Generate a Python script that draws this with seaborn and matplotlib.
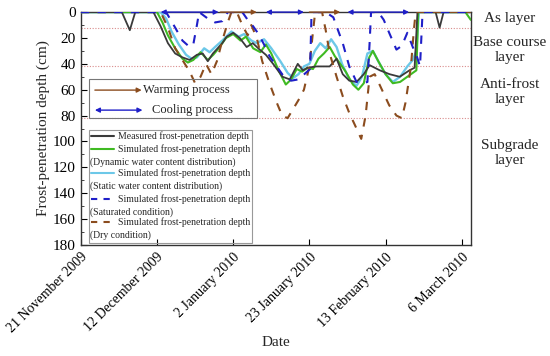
import pandas as pd
import matplotlib
matplotlib.use("Agg")
import matplotlib.pyplot as plt
import matplotlib.dates as mdates
import seaborn as sns
from matplotlib.patches import Rectangle

# Startdatum der Messreihe (Tag 0)
start = pd.Timestamp("2009-11-21")

# Gemessene Frosteindringtiefe (Tage ab Start, Tiefe in cm)
measured_day = [0, 11.3, 13.5, 15, 20, 22, 24, 26, 28, 30, 32, 33.6, 35, 36.4, 39, 40.2, 42, 43.8,
                45.7, 47.4, 49.3, 51, 53, 55.6, 57.6, 59.8, 61.2, 62.5, 65, 68.6, 70.5, 72.2, 74,
                76, 78, 79.6, 82.4, 85.1, 87.9, 90.6, 92, 92.8, 97.8, 98.9, 100, 107.5]
measured_depth = [0, 0, 14, 0, 0, 11, 24, 32, 35, 37, 33, 32, 38, 32, 24, 19, 16, 20,
                  27, 24, 29, 33, 40, 50, 52, 40, 45, 43, 42, 42, 36, 48, 53,
                  54, 48, 41, 45, 48, 50, 45, 43, 0, 0, 12, 0, 0]

# Simulation: dynamische Wassergehaltsverteilung
dynamic_day = [0, 21, 22.5, 24, 26, 28, 29.5, 31, 33, 35, 36.5, 38, 40, 42, 44, 45.5, 47.5, 49.5,
               51, 52.5, 54.5, 56.5, 58, 59.5, 61, 62.5, 64, 65.5, 67, 68.6, 70, 71.5, 73, 75,
               76.5, 78, 79.5, 80.5, 82, 84, 86, 88, 90, 91.5, 92.5, 93, 106, 107.5]
dynamic_depth = [0, 0, 8, 18, 28, 36, 39, 37, 31, 37, 33, 28, 20, 17, 22, 19, 28, 31,
                 25, 32, 45, 56, 52, 44, 46, 43, 44, 36, 32, 27, 34, 40, 46, 56,
                 60, 55, 35, 30, 38, 48, 55, 54, 50, 47, 45, 0, 0, 6]

# Simulation: statische Wassergehaltsverteilung
static_day = [0, 22, 23.5, 25, 27, 29, 30.5, 32, 34, 35.5, 37, 39, 41.5, 43.5, 45, 47, 48.5,
              50.5, 52.5, 55, 57, 58.5, 60, 61.5, 63, 64.5, 66, 67.5, 69, 70.5, 72, 74, 76,
              77.5, 79, 80.5, 82, 84, 86, 88, 90, 91.5, 92.5, 93.2, 107.5]
static_depth = [0, 0, 5, 15, 25, 33, 36, 35, 28, 31, 27, 22, 15, 19, 17, 22, 24,
                21, 28, 38, 47, 51, 48, 42, 40, 30, 24, 28, 21, 27, 40, 52, 57,
                50, 32, 30, 38, 48, 54, 50, 42, 37, 30, 0, 0]

# Simulation: gesättigter Zustand
saturated_day = [0, 23.5, 26, 28, 30, 31, 32, 32.6, 35, 37, 39, 40.5, 44.5, 46, 47.5, 49, 50.5,
                 52, 54, 56, 58, 60, 62, 63.2, 63.6, 66, 68, 69.6, 70.5, 72.2, 74, 76, 77.7,
                 79, 79.6, 80, 82, 83.5, 85, 87, 88.5, 90, 91.5, 92.6, 93.5, 94.2, 107.5]
saturated_depth = [0, 0, 12, 22, 27, 25, 10, 0, 5, 8, 7, 0, 0, 6, 11, 17, 25,
                   34, 42, 50, 53, 52, 47, 44, 0, 0, 1, 4, 11, 24, 42, 54, 55,
                   54, 24, 0, 0, 6, 16, 29, 26, 16, 27, 34, 42, 0, 0]

# Simulation: trockener Zustand
dry_day = [0, 22, 24, 26, 28, 30, 31.5, 33, 34.5, 36, 37.5, 39, 40.5, 41.5, 43, 44.5, 46, 47,
           48.5, 50, 52, 54, 55.5, 57, 58.5, 60, 61.5, 63, 64, 64.6, 66.5, 67.5, 68.6, 70.5,
           72.2, 74, 75.5, 77.3, 78.5, 79.6, 81, 83, 85, 87, 88.5, 89.5, 91, 91.8, 92.3, 107.5]
dry_depth = [0, 0, 12, 28, 37, 46, 55, 50, 40, 48, 38, 22, 8, 0, 0, 10, 18, 10,
             20, 38, 55, 70, 80, 82, 75, 68, 60, 42, 15, 0, 0, 14, 32, 50,
             65, 78, 87, 98, 80, 50, 48, 60, 72, 80, 82, 70, 42, 14, 0, 0]

# Schichtgrenzen (cm) und Prozesse an der Oberfläche (Tage)
layer_bounds = [12, 42, 82]
layer_names = ["As layer", "Base course\nlayer", "Anti-frost\nlayer", "Subgrade\nlayer"]
layer_label_y = [0.949, 0.860, 0.742, 0.570]
cooling_spans = [(22, 38), (51, 61.5), (73.5, 90.5)]
warming_spans = [(38.5, 48.5), (63, 71.5)]

tick_days = [0, 21, 42, 63, 84, 105]
tick_labels = ["21 November 2009", "12 December 2009", "2 January 2010",
               "23 January 2010", "13 February 2010", "6 March 2010"]

c_meas = "#3a3a3a"
c_dyn = "#3fba22"
c_stat = "#6cc8e8"
c_sat = "#1f1fc8"
c_dry = "#8b4c1e"
c_layer = "#d98c8c"

sns.set_style("ticks")
plt.rcParams["font.family"] = ["Liberation Serif", "DejaVu Serif"]

fig, ax = plt.subplots(figsize=(5.5, 3.56), dpi=100)
fig.subplots_adjust(left=0.147, right=0.856, top=0.966, bottom=0.312)


def frame(days, depth):
    return pd.DataFrame({"Date": start + pd.to_timedelta(days, unit="D"), "Depth": depth})


for d in layer_bounds:
    ax.axhline(d, color=c_layer, ls=(0, (1, 1.5)), lw=0.8, zorder=1)

series = [
    (static_day, static_depth, c_stat, "-", 1.7),
    (dynamic_day, dynamic_depth, c_dyn, "-", 1.5),
    (measured_day, measured_depth, c_meas, "-", 1.3),
    (dry_day, dry_depth, c_dry, (0, (4, 4)), 1.5),
    (saturated_day, saturated_depth, c_sat, (0, (4, 4)), 1.5),
]
for days, depth, col, ls, lw in series:
    sns.lineplot(data=frame(days, depth), x="Date", y="Depth", ax=ax, color=col,
                 linestyle=ls, lw=lw, estimator=None, sort=False, zorder=3)

# Pfeile für Abkühl- und Erwärmungsprozesse
for a, b in cooling_spans:
    xa = mdates.date2num(start + pd.Timedelta(days=a))
    xb = mdates.date2num(start + pd.Timedelta(days=b))
    ax.annotate("", xy=(xb, 0), xytext=(xa, 0), annotation_clip=False,
                arrowprops=dict(arrowstyle="<|-|>", color=c_sat, lw=1, mutation_scale=7,
                                shrinkA=0, shrinkB=0), zorder=5)
for a, b in warming_spans:
    xa = mdates.date2num(start + pd.Timedelta(days=a))
    xb = mdates.date2num(start + pd.Timedelta(days=b))
    ax.annotate("", xy=(xb, 0), xytext=(xa, 0), annotation_clip=False,
                arrowprops=dict(arrowstyle="-|>", color=c_dry, lw=1, mutation_scale=7,
                                shrinkA=0, shrinkB=0), zorder=5)

ax.set_ylim(180, 0)
ax.set_yticks(range(0, 181, 20))
ax.set_yticks(range(10, 180, 20), minor=True)
ax.set_xlim(mdates.date2num(start), mdates.date2num(start + pd.Timedelta(days=107.5)))
ax.set_xticks([mdates.date2num(start + pd.Timedelta(days=t)) for t in tick_days])
ax.set_xticklabels(tick_labels, rotation=45, ha="right", rotation_mode="anchor", fontsize=10)
ax.tick_params(axis="both", direction="in", colors="black", length=4)
ax.tick_params(axis="y", labelsize=11)
ax.tick_params(axis="x", labelsize=10, pad=4)
ax.tick_params(axis="y", which="minor", direction="in", length=2.5)
ax.set_ylabel("Frost-penetration depth (cm)", fontsize=11, labelpad=2)
ax.set_xlabel("Date", fontsize=11, labelpad=0)
for s in ax.spines.values():
    s.set_visible(True)
    s.set_color("#333333")
    s.set_linewidth(1)

# Legende 1: Prozesse
ax.add_patch(Rectangle((0.0205, 0.545), 0.43, 0.167, transform=ax.transAxes, fill=False,
                       ec="#777777", lw=0.8, zorder=6))
ax.annotate("", xy=(0.156, 0.665), xytext=(0.036, 0.665), xycoords="axes fraction",
            arrowprops=dict(arrowstyle="-|>", color=c_dry, lw=1, mutation_scale=7,
                            shrinkA=0, shrinkB=0))
ax.annotate("", xy=(0.158, 0.579), xytext=(0.036, 0.579), xycoords="axes fraction",
            arrowprops=dict(arrowstyle="<|-|>", color=c_sat, lw=1, mutation_scale=7,
                            shrinkA=0, shrinkB=0))
ax.text(0.159, 0.665, "Warming process", transform=ax.transAxes, fontsize=9, va="center")
ax.text(0.182, 0.579, "Cooling process", transform=ax.transAxes, fontsize=9, va="center")

# Legende 2: Kurven
ax.add_patch(Rectangle((0.0205, 0.009), 0.418, 0.485, transform=ax.transAxes, fill=False,
                       ec="#999999", lw=0.8, zorder=6))
entries = [
    (0.468, c_meas, "-", "Measured frost-penetration depth", None),
    (0.412, c_dyn, "-", "Simulated frost-penetration depth", "(Dynamic water content distribution)"),
    (0.309, c_stat, "-", "Simulated frost-penetration depth", "(Static water content distribution)"),
    (0.197, c_sat, (0, (3, 3)), "Simulated frost-penetration depth", "(Saturated condition)"),
    (0.099, c_dry, (0, (3, 3)), "Simulated frost-penetration depth", "(Dry condition)"),
]
for yy, col, ls, lab, sub in entries:
    ax.plot([0.026, 0.085], [yy, yy], transform=ax.transAxes, color=col, ls=ls, lw=1.5)
    ax.text(0.095, yy, lab, transform=ax.transAxes, fontsize=7, va="center")
    if sub:
        ax.text(0.023, yy - 0.058, sub, transform=ax.transAxes, fontsize=7, va="center")

for name, yy in zip(layer_names, layer_label_y):
    fig.text(0.927, yy, name, ha="center", va="center", fontsize=11, linespacing=1.2)

fig.savefig("out.png", dpi=100)
